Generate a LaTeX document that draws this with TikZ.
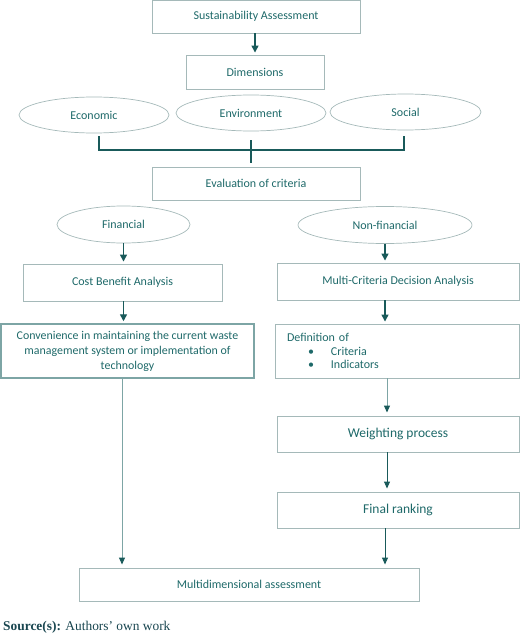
\documentclass[tikz,border=0pt]{standalone}
\usepackage{fontspec}
\setmainfont{Carlito}
\newfontfamily\srcfont{Liberation Serif}
\usetikzlibrary{arrows.meta,shapes.geometric}

\definecolor{tealtext}{RGB}{30,105,105}
\definecolor{tealline}{RGB}{25,90,90}
\definecolor{boxline}{RGB}{165,185,185}
\definecolor{paleline}{RGB}{125,165,165}
\definecolor{srccolor}{RGB}{25,70,80}

\tikzset{
	block/.style={draw=boxline, line width=0.9pt, rectangle, text=tealtext,
		font=\fontsize{12}{13.5}\selectfont, inner sep=2pt},
	oval/.style={draw=boxline, line width=0.7pt, ellipse, text=tealtext,
		font=\fontsize{12}{13.5}\selectfont, inner sep=0pt},
	flow/.style={draw=tealline, line width=1.4pt,
		-{Triangle[width=7pt,length=7pt]}, shorten >=2pt},
	thinflow/.style={draw=tealline, line width=0.9pt,
		-{Triangle[width=6pt,length=7pt]}, shorten >=3pt},
	paleflow/.style={draw=paleline, line width=1pt,
		-{Triangle[width=6pt,length=7pt,color=tealline]}, shorten >=3pt},
	bracket/.style={draw=tealline, line width=1.4pt},
}

\begin{document}
\begin{tikzpicture}[x=1pt, y=-1pt]
	\useasboundingbox (0,0) rectangle (520,634);

% Top of the chart
\node[block, minimum width=208pt, minimum height=33pt] (sa) at (256,16.5) {Sustainability Assessment};
\node[block, minimum width=138pt, minimum height=34pt] (dim) at (255,72) {Dimensions};

% Dimensions
\node[oval, minimum width=150pt, minimum height=36pt] (eco) at (94,115) {Economic};
\node[oval, minimum width=150pt, minimum height=36pt] (env) at (251,113) {Environment};
\node[oval, minimum width=151pt, minimum height=36pt] (soc) at (405.5,112) {Social};

\node[block, minimum width=208pt, minimum height=33pt] (eval) at (256,183.5) {Evaluation of criteria};

% Two branches
\node[oval, minimum width=133pt, minimum height=37pt] (fin) at (123.5,224.5) {Financial};
\node[oval, minimum width=174pt, minimum height=37pt] (nonfin) at (385,225) {Non-financial};

\node[block, minimum width=199pt, minimum height=37pt] (cba) at (122.5,282.5) {Cost Benefit Analysis};
\node[block, minimum width=242pt, minimum height=37pt] (mcda) at (398,281.5) {Multi-Criteria Decision Analysis};

\node[block, draw=paleline, line width=1.5pt, minimum width=253pt, minimum height=54pt,
	align=center, font=\fontsize{11.9}{15}\selectfont] (conv) at (127.5,351)
	{Convenience in maintaining the current waste\\management system or implementation of\\technology};
\node[block, minimum height=54pt, text width=220pt, inner xsep=12pt, align=left] (defn) at (397,351)
	{Definition of\\\hspace*{21pt}\textbullet\hspace{17pt}Criteria\\\hspace*{21pt}\textbullet\hspace{17pt}Indicators};

\node[block, minimum width=242pt, minimum height=36pt, font=\fontsize{13.5}{15}\selectfont] (weight) at (398,434) {Weighting process};
\node[block, minimum width=242pt, minimum height=36pt, font=\fontsize{13.5}{15}\selectfont] (rank) at (398,510) {Final ranking};

\node[block, minimum width=340pt, minimum height=33pt] (multi) at (249,584.5) {Multidimensional assessment};

\node[anchor=west, inner sep=0pt, text=srccolor, font=\srcfont\fontsize{13.4}{15}\selectfont] (src) at (3,627)
	{\textbf{Source(s):} Authors’ own work};

% Connectors
\draw[flow] (sa.south -| dim.north) -- (dim.north);

% Bracket joining the three dimensions
\coordinate (bl) at (99,136);
\coordinate (br) at (404,136);
\coordinate (bt) at (251,140);
\coordinate (bb) at (251,163);
\draw[bracket] (bl) -- (bl |- 0,150) -- (br |- 0,150) -- (br);
\draw[bracket] (bt) -- (bb);

\draw[flow] (fin.south) -- (fin.south |- cba.north);
\draw[flow] (nonfin.south) -- (nonfin.south |- mcda.north);
\draw[flow] (fin.south |- cba.south) -- (fin.south |- conv.north);
\draw[flow] (nonfin.south |- mcda.south) -- (nonfin.south |- defn.north);

\coordinate (cl) at (122,378);
\coordinate (cr) at (387,378);
\coordinate (cm) at (385,528);
\draw[paleflow] (cl) -- (cl |- multi.north);
\draw[paleflow] (cr) -- (cr |- weight.north);
\draw[thinflow] (cr |- weight.south) -- (cr |- rank.north);
\draw[thinflow] (cm) -- (cm |- multi.north);
\end{tikzpicture}
\end{document}
